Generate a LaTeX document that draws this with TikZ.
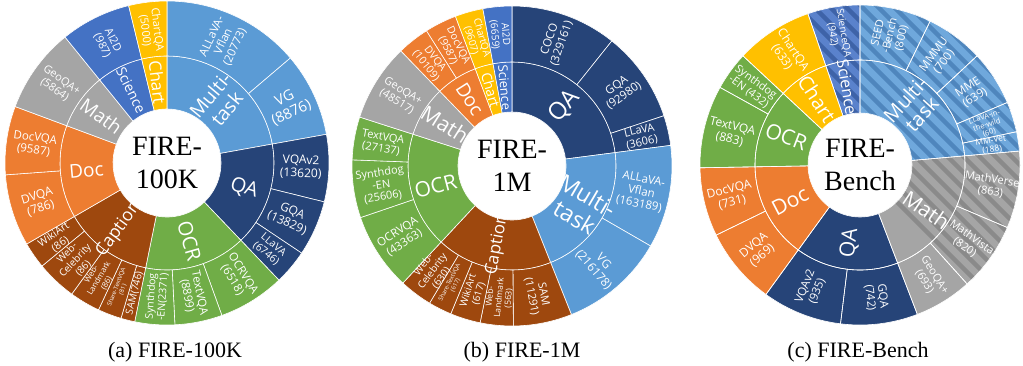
\documentclass[tikz,border=0pt]{standalone}
\usepackage{fontspec}
\setmainfont{Liberation Serif}
\newfontfamily\lf{Open Sans}
\definecolor{cMT}{HTML}{5B9BD5}
\definecolor{cQA}{HTML}{264478}
\definecolor{cOCR}{HTML}{70AD47}
\definecolor{cCap}{HTML}{9E480E}
\definecolor{cDoc}{HTML}{ED7D31}
\definecolor{cMath}{HTML}{A5A5A5}
\definecolor{cSci}{HTML}{4472C4}
\definecolor{cChart}{HTML}{FFC000}
\definecolor{cMTb}{HTML}{6FA8DC}
\definecolor{cMTs}{HTML}{4F86BD}
\definecolor{cMathS}{HTML}{8A8A8A}
\definecolor{cSciB}{HTML}{5A82CC}
\definecolor{cSciS}{HTML}{3E63A8}
\tikzset{
  sec/.style={draw=white, line width=0.6pt, line join=round},
  lab/.style={text=white, align=center, inner sep=0pt},
  ctr/.style={font=\fontsize{28}{33}\selectfont, align=center, inner sep=0pt, text=black},
  capt/.style={font=\fontsize{22}{26}\selectfont, inner sep=0pt, text=black},
  stripe/.style={line width=4.5pt}
}
\newcommand\wsec[5]{\path[#5] (90-#3:#1pt) -- (90-#3:#2pt) arc[start angle={90-#3}, end angle={90-#4}, radius=#2pt] -- (90-#4:#1pt) arc[start angle={90-#4}, end angle={90-#3}, radius=#1pt] -- cycle;}
\newcommand\slab[5]{%
  \pgfmathsetmacro\rot{(#3<180)*(90-#3)+(#3>=180)*(270-#3)}%
  \pgfmathsetmacro\bs{#4*1.1}%
  \node[lab, font={\lf\fontsize{#4}{\bs}\selectfont}, rotate=\rot] (#1) at (90-#3:#2pt) {#5};}
\begin{document}
\begin{tikzpicture}[x=1pt,y=1pt]
\useasboundingbox (0,0) rectangle (1023,365);
% ---------------- Chart (a)
\begin{scope}[shift={(167,202)}]
\foreach \a/\b/\c in {0/79.8/cMT,79.8/136.3/cQA,136.3/191.5/cOCR,191.5/240/cCap,240/290.4/cDoc,290.4/321/cMath,321/346.3/cSci,346.3/360/cChart}
  {\wsec{54}{107}{\a}{\b}{sec,fill=\c}}
\foreach \a/\b/\c in {0/49.6/cMT,49.6/79.8/cMT,79.8/103.9/cQA,103.9/123.8/cQA,123.8/136.3/cQA,136.3/160.2/cOCR,160.2/177.2/cOCR,177.2/191.5/cOCR,191.5/196.5/cCap,196.5/205/cCap,205/216/cCap,216/230.5/cCap,230.5/240/cCap,240/265.8/cDoc,265.8/290.4/cDoc,290.4/321/cMath,321/346.3/cSci,346.3/360/cChart}
  {\wsec{107}{162}{\a}{\b}{sec,fill=\c}}
\node[ctr] (a-center) at (0,0) {FIRE-\\100K};
\slab{a-mt}{80}{40}{19.5}{Multi-\\task}
\slab{a-qa}{81}{108}{20}{QA}
\slab{a-ocr}{81}{164}{20}{OCR}
\slab{a-cap}{82}{216}{17.5}{Caption}
\slab{a-doc}{81}{265}{19}{Doc}
\slab{a-math}{81}{305.7}{19}{Math}
\slab{a-sci}{81}{333.6}{14}{Science}
\slab{a-chart}{81}{353.2}{17}{Chart}
\slab{a-allava}{134}{25}{11.5}{ALLaVA-\\Vflan\\(20773)}
\slab{a-vg}{134}{64.7}{14.5}{VG\\(8876)}
\slab{a-vqa}{134}{91.8}{12}{VQAv2\\(13620)}
\slab{a-gqa}{134}{113.8}{12}{GQA\\(13829)}
\slab{a-llava}{134}{130}{10.5}{LLaVA\\(6746)}
\slab{a-ocrvqa}{134}{148.2}{11.5}{OCRVQA\\(6518)}
\slab{a-textvqa}{134}{168.7}{11.5}{TextVQA\\(8899)}
\slab{a-synth}{134}{184.3}{10.5}{Synthdog\\-EN(2371)}
\slab{a-sam}{134}{194}{10}{SAM(746)}
\slab{a-share}{134}{200.7}{6}{Share-TextVQA\\(81)}
\slab{a-land}{134}{210.5}{8}{Web-\\Landmark\\(86)}
\slab{a-celeb}{134}{223.2}{10}{Web-\\Celebrity\\(86)}
\slab{a-wiki}{134}{235.2}{10.5}{WikiArt\\(86)}
\slab{a-dvqa}{134}{252.9}{12}{DVQA\\(786)}
\slab{a-docvqa}{134}{278.1}{11.5}{DocVQA\\(9587)}
\slab{a-geo}{134}{305.7}{11}{GeoQA+\\(5864)}
\slab{a-ai2d}{134}{333.6}{11}{AI2D\\(987)}
\slab{a-chartqa}{134}{353.2}{11}{ChartQA\\(5000)}
\end{scope}
% ---------------- Chart (b)
\begin{scope}[shift={(512,199)}]
\foreach \a/\b/\c in {0/82.6/cQA,82.6/158.2/cMT,158.2/223/cCap,223/287.8/cOCR,287.8/316/cMath,316/339.3/cDoc,339.3/349.5/cChart,349.5/360/cSci}
  {\wsec{54}{104}{\a}{\b}{sec,fill=\c}}
\foreach \a/\b/\c in {0/38.6/cQA,38.6/71.7/cQA,71.7/82.6/cQA,82.6/120/cMT,120/158.2/cMT,158.2/179.5/cCap,179.5/191.5/cCap,191.5/202.5/cCap,202.5/211/cCap,211/223/cCap,223/251.2/cOCR,251.2/272.2/cOCR,272.2/287.8/cOCR,287.8/316/cMath,316/327.7/cDoc,327.7/339.3/cDoc,339.3/349.5/cChart,349.5/360/cSci}
  {\wsec{104}{160}{\a}{\b}{sec,fill=\c}}
\node[ctr] (b-center) at (0,0) {FIRE-\\1M};
\slab{b-qa}{79}{41.3}{24}{QA}
\slab{b-mt}{80}{120.4}{23}{Multi-\\task}
\slab{b-cap}{80}{190.6}{17}{Caption}
\slab{b-ocr}{79}{255.4}{21}{OCR}
\slab{b-math}{79}{302}{21}{Math}
\slab{b-doc}{79}{327.7}{19}{Doc}
\slab{b-chart}{79}{344.4}{14}{Chart}
\slab{b-sci}{79}{354.75}{13}{Science}
\slab{b-coco}{132}{19.3}{11.5}{COCO\\(329161)}
\slab{b-gqa}{132}{55.2}{11.5}{GQA\\(92980)}
\slab{b-llava}{132}{77.2}{11}{LLaVA\\(3606)}
\slab{b-allava}{132}{101.3}{11.5}{ALLaVA-\\Vflan\\(163189)}
\slab{b-vg}{132}{139.1}{12}{VG\\(216178)}
\slab{b-sam}{132}{168.9}{11}{SAM\\(11291)}
\slab{b-land}{132}{185.5}{8.5}{Web-\\Landmark\\(563)}
\slab{b-wiki}{132}{197}{10}{WikiArt\\(617)}
\slab{b-share}{132}{206.8}{6}{Share-TextVQA\\(617)}
\slab{b-celeb}{132}{217}{10}{Web-\\Celebrity\\(630)}
\slab{b-ocrvqa}{132}{237.1}{11.5}{OCRVQA\\(43363)}
\slab{b-synth}{132}{261.7}{11}{Synthdog\\-EN\\(25606)}
\slab{b-textvqa}{132}{280}{11}{TextVQA\\(27137)}
\slab{b-geo}{132}{301.9}{11}{GeoQA+\\(48517)}
\slab{b-dvqa}{132}{321.85}{10.5}{DVQA\\(10109)}
\slab{b-docvqa}{132}{333.5}{10.5}{DocVQA\\(9587)}
\slab{b-chartqa}{132}{344.4}{10}{ChartQA\\(9607)}
\slab{b-ai2d}{132}{354.75}{10}{AI2D\\(6659)}
\end{scope}
% ---------------- Chart (c)
\begin{scope}[shift={(860,200)}]
\foreach \a/\b/\c in {0/85/cMTb,85/159/cMath,159/216/cQA,216/269/cDoc,269/313/cOCR,313/341/cChart,341/360/cSciB}
  {\wsec{52}{105}{\a}{\b}{fill=\c}}
\foreach \a/\b/\c in {0/26/cMTb,26/47/cMTb,47/67/cMTb,67/78/cMTb,78/85/cMTb,85/113/cMath,113/138/cMath,138/159/cMath,159/187/cQA,187/216/cQA,216/244/cDoc,244/269/cDoc,269/299/cOCR,299/313/cOCR,313/341/cChart,341/360/cSciB}
  {\wsec{105}{160}{\a}{\b}{fill=\c}}
\begin{scope}
  \wsec{52}{160}{0}{85}{clip}
  \foreach \k in {-26,...,26} {\draw[stripe, cMTs] ({\k*16-200},200) -- ({\k*16+200},-200);}
\end{scope}
\begin{scope}
  \wsec{52}{160}{85}{138}{clip}
  \foreach \k in {-26,...,26} {\draw[stripe, cMathS] ({\k*16-200},200) -- ({\k*16+200},-200);}
\end{scope}
\begin{scope}
  \wsec{52}{160}{341}{360}{clip}
  \foreach \k in {-26,...,26} {\draw[stripe, cSciS] ({\k*16-200},200) -- ({\k*16+200},-200);}
\end{scope}
\foreach \a/\b in {0/85,85/159,159/216,216/269,269/313,313/341,341/360}
  {\wsec{52}{105}{\a}{\b}{sec}}
\foreach \a/\b in {0/26,26/47,47/67,67/78,78/85,85/113,113/138,138/159,159/187,187/216,216/244,244/269,269/299,299/313,313/341,341/360}
  {\wsec{105}{160}{\a}{\b}{sec}}
\node[ctr] (c-center) at (0,0) {FIRE-\\Bench};
\slab{c-mt}{79}{42.5}{20}{Multi-\\task}
\slab{c-math}{80}{124}{21}{Math}
\slab{c-qa}{79}{187.5}{21}{QA}
\slab{c-doc}{79}{242.5}{21}{Doc}
\slab{c-ocr}{79}{291}{21}{OCR}
\slab{c-chart}{79}{327}{20}{Chart}
\slab{c-sci}{79}{350.5}{16}{Science}
\slab{c-seed}{133}{13}{11}{SEED\\-Bench\\(800)}
\slab{c-mmmu}{133}{36.5}{11.5}{MMMU\\(700)}
\slab{c-mme}{133}{57}{11.5}{MME\\(639)}
\slab{c-wild}{133}{72.5}{7.5}{LLaVA-in-\\the-wild\\(60)}
\slab{c-vet}{133}{81.5}{8.5}{MM-Vet\\(188)}
\slab{c-mverse}{133}{99}{11}{MathVerse\\(863)}
\slab{c-mvista}{133}{125.5}{11}{MathVista\\(820)}
\slab{c-geo}{133}{148.5}{11}{GeoQA+\\(693)}
\slab{c-gqa}{133}{173}{11.5}{GQA\\(742)}
\slab{c-vqa}{133}{201.5}{11.5}{VQAv2\\(935)}
\slab{c-dvqa}{133}{230}{12}{DVQA\\(969)}
\slab{c-docvqa}{133}{256.5}{12}{DocVQA\\(731)}
\slab{c-textvqa}{133}{284}{12}{TextVQA\\(883)}
\slab{c-synth}{133}{306}{11}{Synthdog\\-EN (432)}
\slab{c-chartqa}{133}{327}{12}{ChartQA\\(633)}
\slab{c-sciqa}{133}{350.5}{10}{ScienceQA\\(942)}
\end{scope}
% ---------------- captions
\node[capt] (cap-a) at (175,13) {(a) FIRE-100K};
\node[capt] (cap-b) at (522,13) {(b) FIRE-1M};
\node[capt] (cap-c) at (858,13) {(c) FIRE-Bench};
\end{tikzpicture}
\end{document}
